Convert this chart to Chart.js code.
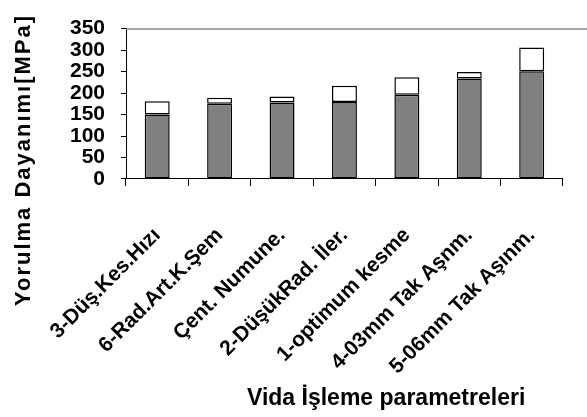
<!DOCTYPE html>
<html><head><meta charset="utf-8">
<script src="https://cdn.jsdelivr.net/npm/chart.js@4"></script>
<style>html,body{margin:0;padding:0;background:#fff}#wrap{width:587px;height:417px}</style>
</head><body><div id="wrap"><canvas id="c" width="587" height="417"></canvas></div>
<script>
const categories = ["3-Düş.Kes.Hızı","6-Rad.Art.K.Şem","Çent. Numune.","2-DüşükRad. İler.","1-optimum kesme","4-03mm Tak Aşnm.","5-06mm Tak Aşınm."];
const baseValues = [150, 175, 178, 179, 196, 234, 251];
const extraValues = [31, 14, 14, 38, 41, 15, 55];
const yTicks = [0, 50, 100, 150, 200, 250, 300, 350];
const yTitle = "Yorulma Dayanımı[MPa]";
const xTitle = "Vida İşleme parametreleri";

const FONT = "'Liberation Sans', Arial, sans-serif";

const decor = {
  id: 'decor',
  afterDraw(chart) {
    const {ctx, chartArea} = chart;
    ctx.save();
    ctx.strokeStyle = '#888';
    ctx.lineWidth = 1.5;
    ctx.beginPath();
    ctx.moveTo(chartArea.left, chartArea.top + 0.5);
    ctx.lineTo(chart.width, chartArea.top + 0.5);
    ctx.stroke();
    ctx.fillStyle = '#000';
    ctx.font = "bold 23px " + FONT;
    ctx.textAlign = 'left';
    ctx.textBaseline = 'alphabetic';
    ctx.fillText(xTitle, 247, 405);
    ctx.translate(30, 160);
    ctx.rotate(-Math.PI / 2);
    ctx.textAlign = 'center';
    ctx.letterSpacing = '2px';
    ctx.font = "bold 22px " + FONT;
    ctx.fillText(yTitle, 0, 0);
    ctx.restore();
  }
};

new Chart(document.getElementById('c'), {
  type: 'bar',
  data: {
    labels: categories,
    datasets: [
      {data: baseValues, backgroundColor: '#808080', borderColor: '#000', borderWidth: 1.5, barPercentage: 0.4, categoryPercentage: 1, borderSkipped: false},
      {data: extraValues, backgroundColor: '#fff', borderColor: '#000', borderWidth: 1.5, barPercentage: 0.4, categoryPercentage: 1, borderSkipped: false}
    ]
  },
  options: {
    responsive: false,
    animation: false,
    devicePixelRatio: 1,
    layout: {padding: {left: 0, right: 7, top: 14, bottom: 0}},
    plugins: {legend: {display: false}, tooltip: {enabled: false}},
    scales: {
      x: {
        stacked: true,
        offset: true,
        grid: {offset: true, drawOnChartArea: false, drawTicks: true, tickLength: 7, color: '#000', lineWidth: 1},
        border: {color: '#000', width: 1},
        ticks: {maxRotation: 45, minRotation: 45, color: '#000', font: {family: FONT, size: 21, weight: 'bold'}, padding: 37, autoSkip: false},
        afterFit(s) { s.height = 238; }
      },
      y: {
        stacked: true,
        min: 0, max: 350,
        afterBuildTicks(s) { s.ticks = yTicks.map(v => ({value: v})); },
        grid: {drawOnChartArea: false, drawTicks: true, tickLength: 5, color: '#000'},
        border: {color: '#000', width: 1},
        ticks: {color: '#000', font: {family: FONT, size: 21, weight: 'bold'}, padding: 16, autoSkip: false},
        afterFit(s) { s.width = 126; }
      }
    }
  },
  plugins: [decor]
});
</script></body></html>
